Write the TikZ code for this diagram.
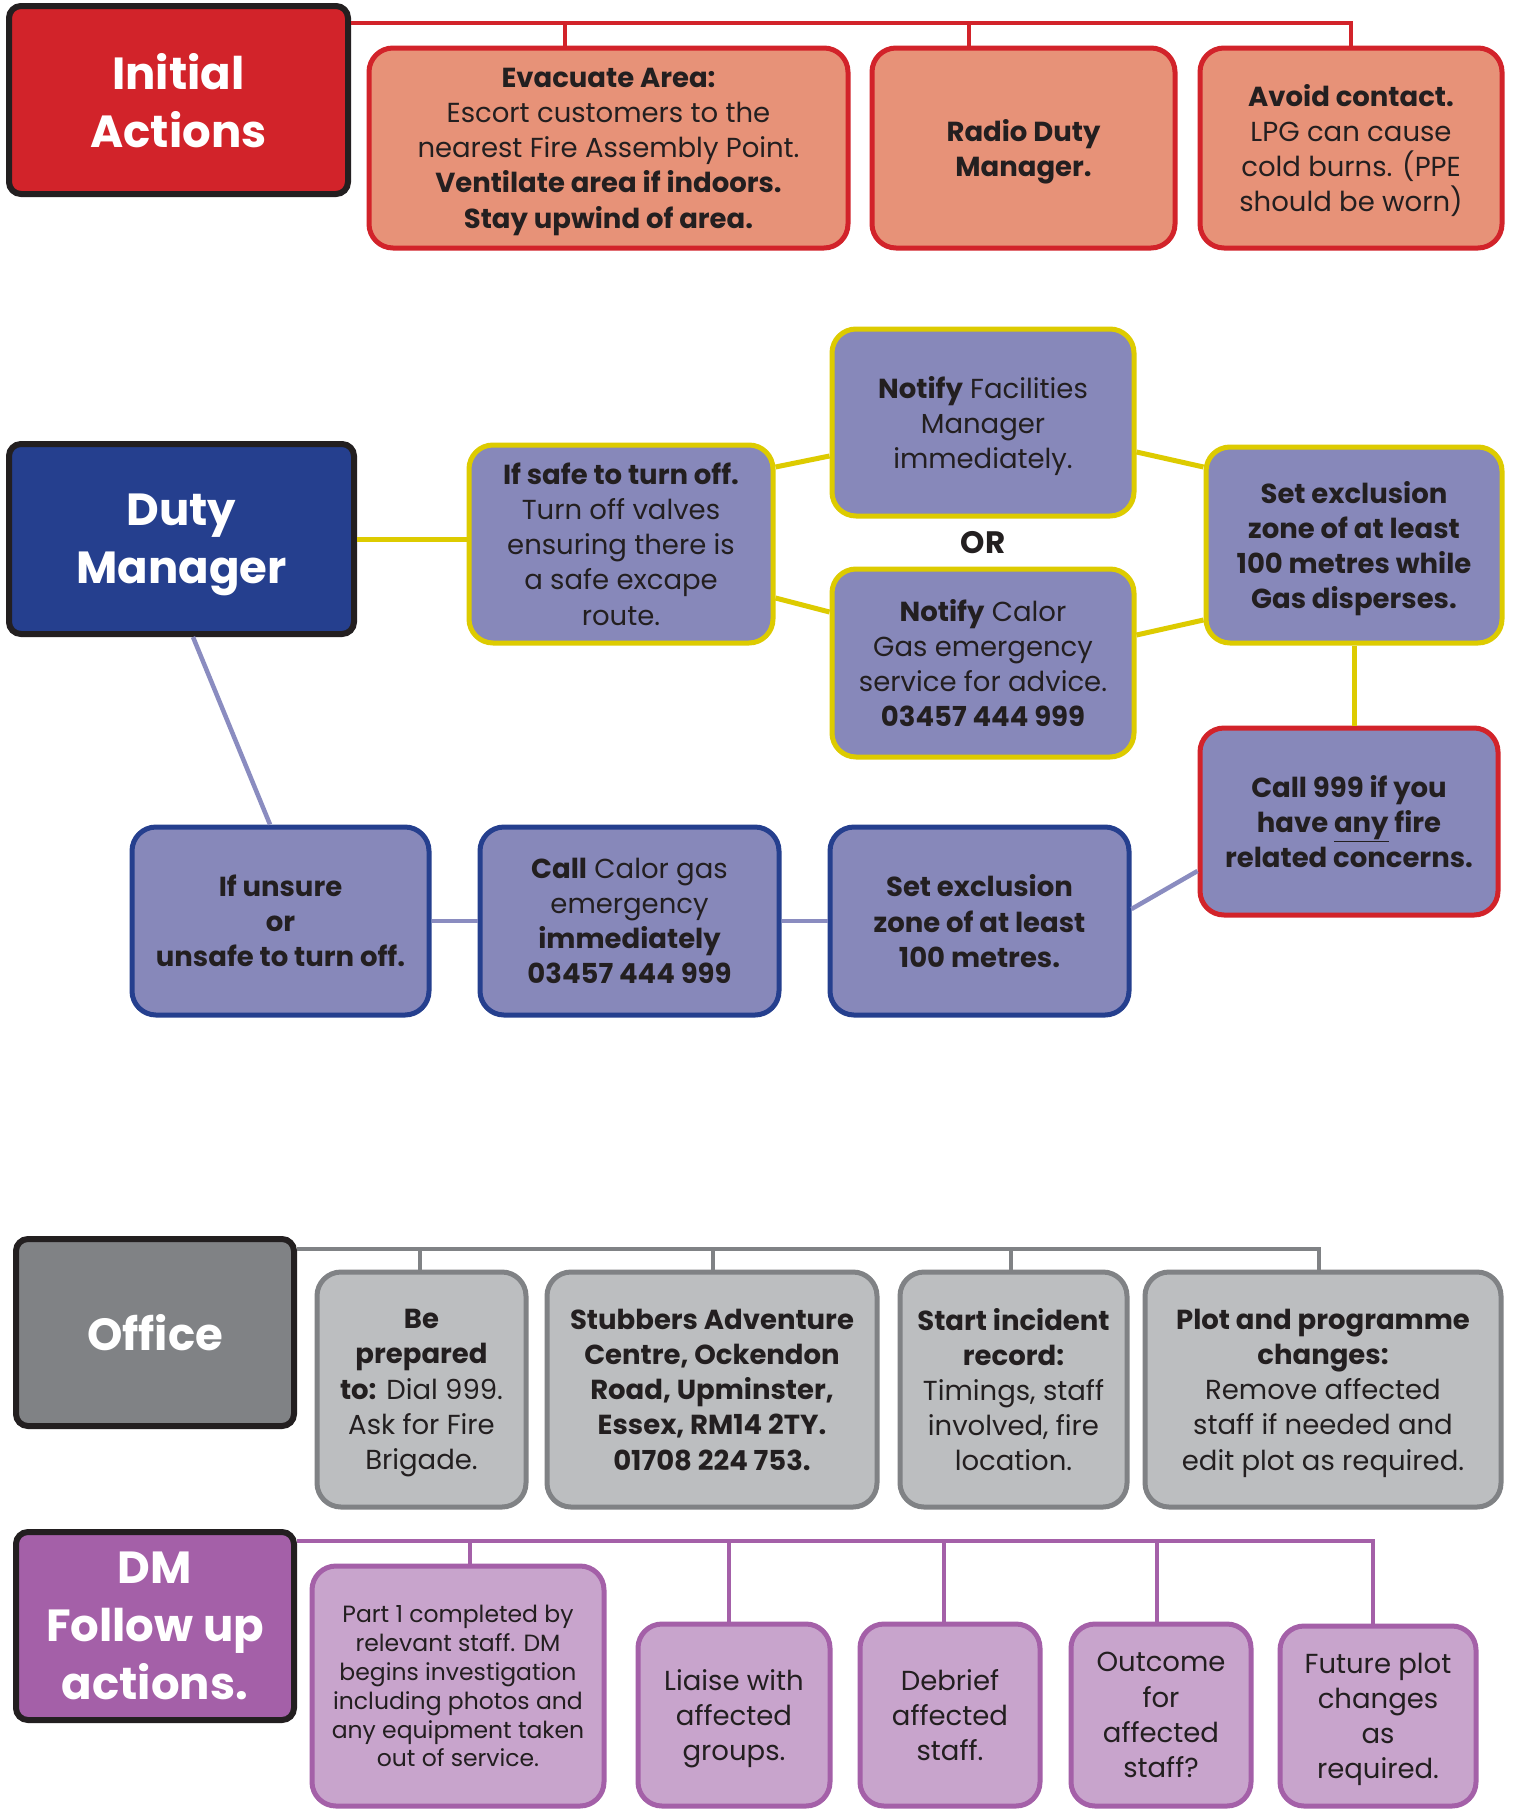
\documentclass[tikz,border=0pt]{standalone}
\usepackage{fontspec}
\setmainfont{Poppins}
\definecolor{iared}{HTML}{D2232A}
\definecolor{salmon}{HTML}{E79278}
\definecolor{hblack}{HTML}{231F20}
\definecolor{dmblue}{HTML}{253F8E}
\definecolor{lav}{HTML}{8788BA}
\definecolor{lavline}{HTML}{8A8CC0}
\definecolor{yel}{HTML}{DDCB00}
\definecolor{gryfill}{HTML}{BCBEC0}
\definecolor{gryline}{HTML}{808285}
\definecolor{purfill}{HTML}{C8A4CC}
\definecolor{purline}{HTML}{A460A8}
\newcommand\bodyfont{\fontsize{27.5}{35.2}\selectfont}
\newcommand\smallbody{\fontsize{23.5}{28.9}\selectfont}
\newcommand\headfont{\fontsize{45}{58}\selectfont\bfseries}
\tikzset{
  box/.style={rounded corners=24pt, line width=5pt, inner sep=0pt, align=center, text=hblack, font=\bodyfont, text depth=-3pt},
  pbox/.style={box, fill=purfill, draw=purline, text depth=-10pt},
  smallbox/.style={box, font=\smallbody, text depth=-21pt},
  head/.style={rounded corners=12pt, line width=6pt, draw=hblack, inner sep=0pt, align=center, text=white, font=\headfont, text depth=0pt},
  conn/.style={line width=4.5pt},
  yconn/.style={line width=5pt, draw=yel},
}
\begin{document}
\begin{tikzpicture}[x=1pt,y=-1pt]
\clip (0,0) rectangle (1514,1810);
\fill[white] (0,0) rectangle (1514,1810);

% ---------- Initial actions ----------
\node[head, fill=iared, minimum width=339pt, minimum height=188pt] (ia) at (178.5,100) {Initial\\Actions};
\node[box, fill=salmon, draw=iared, minimum width=479pt, minimum height=200pt] (evac) at (608.5,148)
  {\textbf{Evacuate Area:}\\Escort customers to the\\nearest Fire Assembly Point.\\\textbf{Ventilate area if indoors.}\\\textbf{Stay upwind of area.}};
\node[box, fill=salmon, draw=iared, minimum width=303pt, minimum height=200pt] (radio) at (1023.5,148)
  {\textbf{Radio Duty}\\\textbf{Manager.}};
\node[box, fill=salmon, draw=iared, minimum width=302pt, minimum height=200pt] (avoid) at (1351,148)
  {\textbf{Avoid contact.}\\LPG can cause\\cold burns. (PPE\\should be worn)};
\coordinate (ra) at ([yshift=77pt]ia.east);
\draw[conn, draw=iared] (ra) -| (avoid.north);
\draw[conn, draw=iared] ([xshift=-43.5pt]evac.north) -- ([xshift=-43.5pt]evac.north |- ra);
\draw[conn, draw=iared] ([xshift=-54.5pt]radio.north) -- ([xshift=-54.5pt]radio.north |- ra);

% ---------- Duty manager ----------
\node[head, fill=dmblue, minimum width=345pt, minimum height=190pt] (dm) at (181.5,539) {Duty\\Manager};
\node[box, fill=lav, draw=yel, minimum width=304pt, minimum height=198pt] (safe) at (621,544)
  {\textbf{If safe to turn off.}\\Turn off valves\\ensuring there is\\a safe excape\\route.};
\node[box, fill=lav, draw=yel, minimum width=302pt, minimum height=187pt] (nf) at (983,422.5)
  {\textbf{Notify} Facilities\\Manager\\immediately.};
\node[font=\fontsize{31}{36}\selectfont\bfseries, text=hblack, inner sep=0pt] (or) at (983,543) {OR};
\node[box, fill=lav, draw=yel, minimum width=302pt, minimum height=188pt] (nc) at (983,663)
  {\textbf{Notify} Calor\\Gas emergency\\service for advice.\\\textbf{03457 444 999}};
\node[box, fill=lav, draw=yel, minimum width=296pt, minimum height=196pt] (se) at (1354,545)
  {\textbf{Set exclusion}\\\textbf{zone of at least}\\\textbf{100 metres while}\\\textbf{Gas disperses.}};
\node[box, fill=lav, draw=iared, minimum width=298pt, minimum height=187pt] (c999) at (1349,821.5)
  {\textbf{Call 999 if you}\\\textbf{have \underline{any} fire}\\\textbf{related concerns.}};
\node[box, fill=lav, draw=dmblue, minimum width=297pt, minimum height=188pt] (unsure) at (280.5,921)
  {\textbf{If unsure}\\\textbf{or}\\\textbf{unsafe to turn off.}};
\node[box, fill=lav, draw=dmblue, minimum width=299pt, minimum height=188pt] (callc) at (629.5,921)
  {\textbf{Call} Calor gas\\emergency\\\textbf{immediately}\\\textbf{03457 444 999}};
\node[box, fill=lav, draw=dmblue, minimum width=299pt, minimum height=188pt] (se100) at (979.5,921)
  {\textbf{Set exclusion}\\\textbf{zone of at least}\\\textbf{100 metres.}};

\draw[yconn] (dm.east) -- (safe.west |- dm.east);
\draw[yconn] ([yshift=77pt]safe.east) -- ([yshift=-33.5pt]nf.west);
\draw[yconn] ([yshift=-54pt]safe.east) -- ([yshift=51pt]nc.west);
\draw[yconn] ([yshift=-29.5pt]nf.east) -- ([yshift=78pt]se.west);
\draw[yconn] ([yshift=28pt]nc.east) -- ([yshift=-75pt]se.west);
\draw[yconn] (se.south) -- (se.south |- c999.north);
\draw[conn, draw=lavline] ([yshift=-49.5pt]c999.west) -- ([yshift=12pt]se100.east);
\draw[conn, draw=lavline] ([xshift=11.5pt]dm.south) -- ([xshift=-10.5pt]unsure.north);
\draw[conn, draw=lavline] (unsure.east) -- (callc.west);
\draw[conn, draw=lavline] (callc.east) -- (se100.west);

% ---------- Office ----------
\node[head, fill=gryline, minimum width=278pt, minimum height=187pt] (office) at (155,1332.5) {Office};
\node[box, fill=gryfill, draw=gryline, minimum width=209pt, minimum height=235pt] (bep) at (421.5,1389.5)
  {\textbf{Be}\\\textbf{prepared}\\\textbf{to:} Dial 999.\\Ask for Fire\\Brigade.};
\node[box, fill=gryfill, draw=gryline, minimum width=330pt, minimum height=235pt] (stub) at (712,1389.5)
  {\textbf{Stubbers Adventure}\\\textbf{Centre, Ockendon}\\\textbf{Road, Upminster,}\\\textbf{Essex, RM14 2TY.}\\\textbf{01708 224 753.}};
\node[box, fill=gryfill, draw=gryline, minimum width=227pt, minimum height=235pt] (start) at (1013.5,1389.5)
  {\textbf{Start incident}\\\textbf{record:}\\Timings, staff\\involved, fire\\location.};
\node[box, fill=gryfill, draw=gryline, minimum width=356pt, minimum height=235pt] (plot) at (1323,1389.5)
  {\textbf{Plot and programme}\\\textbf{changes:}\\Remove affected\\staff if needed and\\edit plot as required.};
\coordinate (ga) at ([yshift=83.5pt]office.east);
\draw[conn, draw=gryline] (ga) -| ([xshift=-4pt]plot.north);
\draw[conn, draw=gryline] ([xshift=-1.5pt]bep.north) -- ([xshift=-1.5pt]bep.north |- ga);
\draw[conn, draw=gryline] ([xshift=1pt]stub.north) -- ([xshift=1pt]stub.north |- ga);
\draw[conn, draw=gryline] ([xshift=-2.5pt]start.north) -- ([xshift=-2.5pt]start.north |- ga);

% ---------- DM follow up ----------
\node[head, fill=purline, minimum width=278pt, minimum height=188pt, text depth=-6pt] (dmf) at (155,1626) {DM\\Follow up\\actions.};
\node[smallbox, fill=purfill, draw=purline, minimum width=292pt, minimum height=240pt] (part) at (458,1686)
  {Part 1 completed by\\relevant staff. DM\\begins investigation\\including photos and\\any equipment taken\\out of service.};
\node[pbox, minimum width=192pt, minimum height=182pt] (liaise) at (734,1715)
  {Liaise with\\affected\\groups.};
\node[pbox, minimum width=180pt, minimum height=182pt] (debrief) at (950,1715)
  {Debrief\\affected\\staff.};
\node[pbox, minimum width=180pt, minimum height=182pt] (outcome) at (1161,1715)
  {Outcome\\for\\affected\\staff?};
\node[pbox, minimum width=196pt, minimum height=180pt] (future) at (1378,1716)
  {Future plot\\changes\\as\\required.};
\coordinate (pa) at ([yshift=85pt]dmf.east);
\draw[conn, draw=purline] (pa) -| ([xshift=-5pt]future.north);
\draw[conn, draw=purline] ([xshift=12pt]part.north) -- ([xshift=12pt]part.north |- pa);
\draw[conn, draw=purline] ([xshift=-5pt]liaise.north) -- ([xshift=-5pt]liaise.north |- pa);
\draw[conn, draw=purline] ([xshift=-6pt]debrief.north) -- ([xshift=-6pt]debrief.north |- pa);
\draw[conn, draw=purline] ([xshift=-4pt]outcome.north) -- ([xshift=-4pt]outcome.north |- pa);
\end{tikzpicture}
\end{document}
